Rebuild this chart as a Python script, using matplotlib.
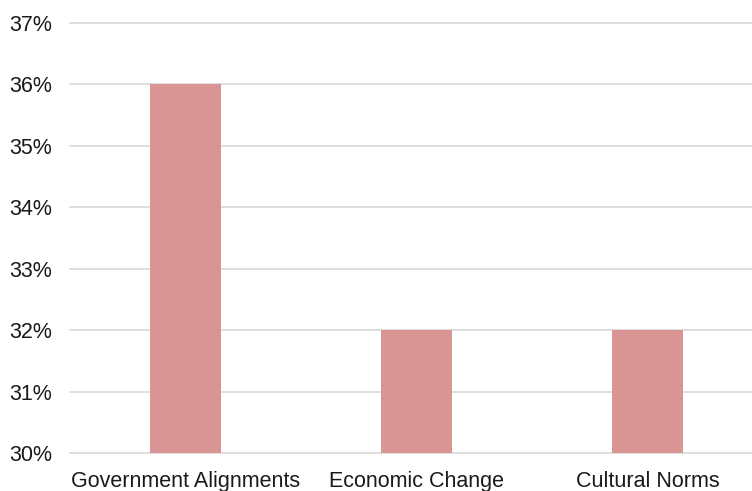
import numpy as np
import matplotlib.pyplot as plt
from matplotlib.ticker import FuncFormatter

categories = ['Government Alignments', 'Economic Change', 'Cultural Norms']
values = [0.36, 0.32, 0.32]
yticks = [0.30, 0.31, 0.32, 0.33, 0.34, 0.35, 0.36, 0.37]

plt.rcParams['font.family'] = ['Liberation Sans', 'DejaVu Sans']

fig = plt.figure(figsize=(7.52, 4.91), dpi=100)
ax = fig.add_axes([70 / 752, 38 / 491, 693 / 752, 430 / 491])

x = np.arange(len(categories))
ax.bar(x, values, width=0.31, color='#d89594', zorder=3)

ax.set_xlim(-0.5, 2.5)
ax.set_ylim(0.30, 0.37)
ax.set_yticks(yticks)
ax.yaxis.set_major_formatter(FuncFormatter(lambda v, p: '{:.0f}%'.format(v * 100)))
ax.set_xticks(x)
ax.set_xticklabels(categories)

ax.grid(axis='y', color='#d9d9d9', linewidth=1.2, zorder=0)
for gl in ax.get_ygridlines():
    gl.set_clip_on(False)
for s in ax.spines.values():
    s.set_visible(False)
ax.tick_params(axis='both', length=0, labelsize=15.5, colors='#1a1a1a')
ax.tick_params(axis='y', pad=13)
ax.tick_params(axis='x', pad=13)

fig.savefig('out.png', dpi=100)
